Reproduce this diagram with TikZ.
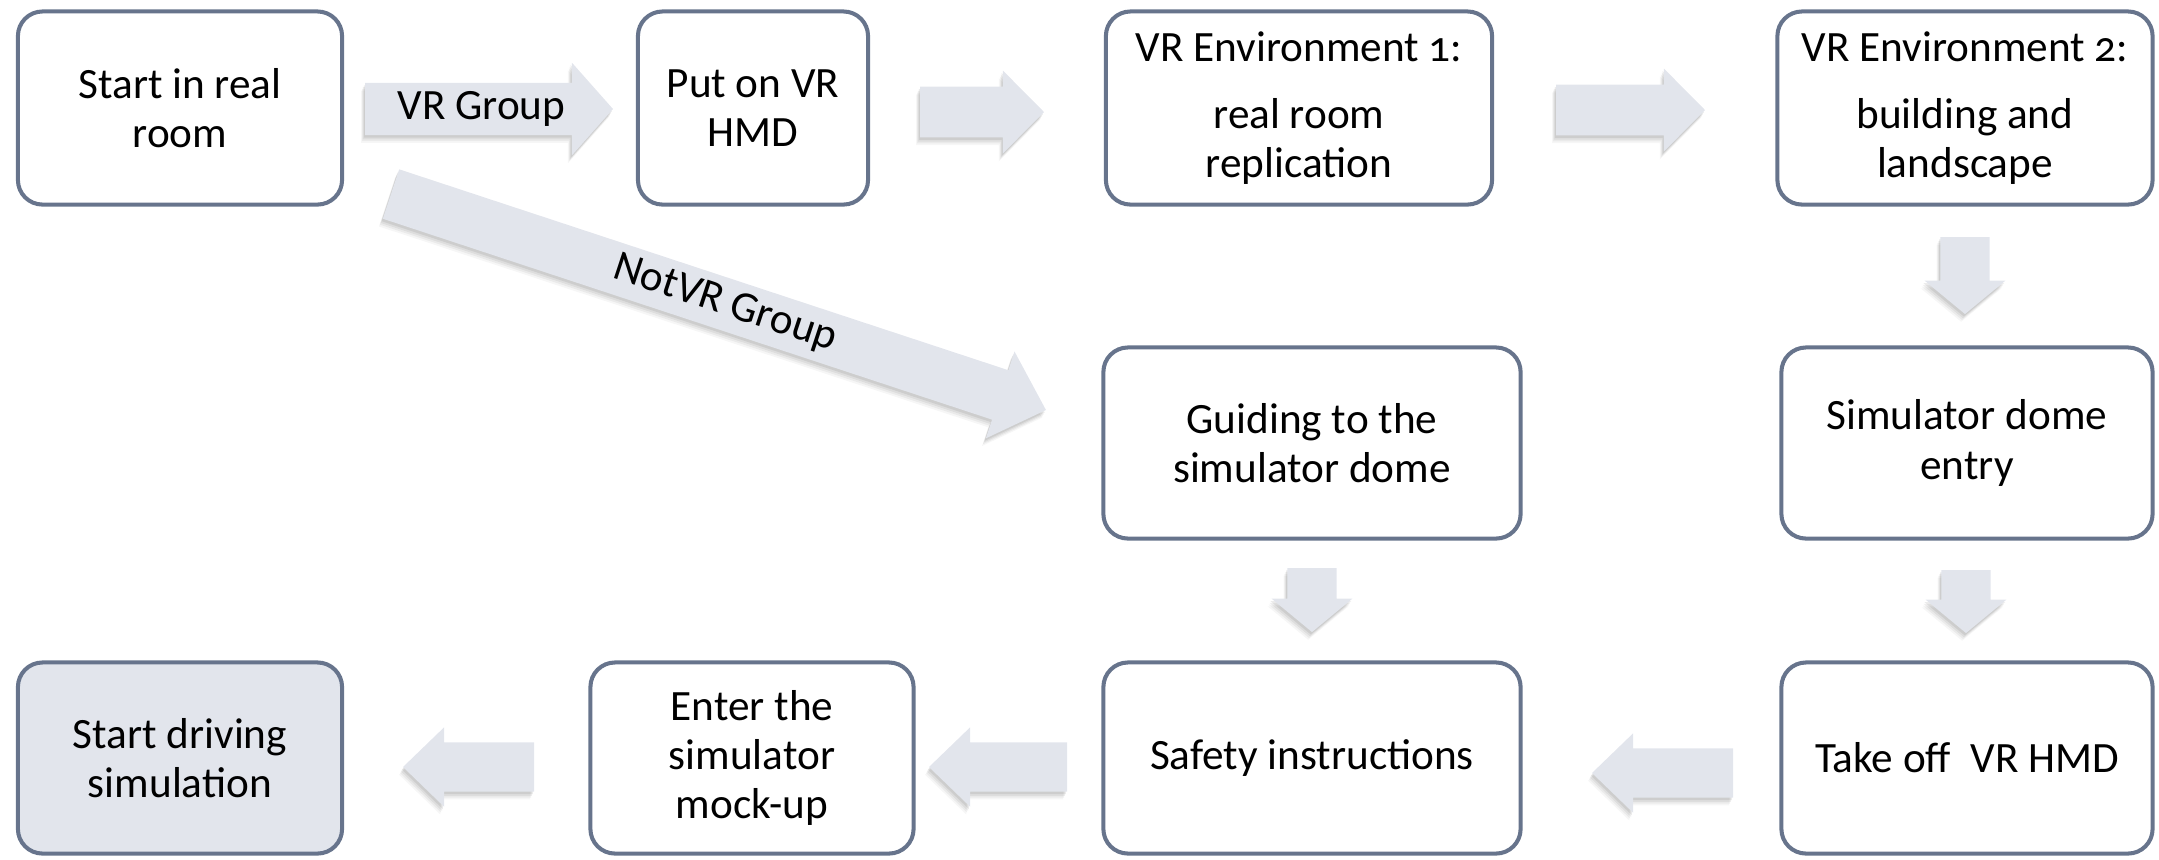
\documentclass[tikz,border=0pt]{standalone}
\usepackage{fontspec}
\setmainfont{Carlito}[Numbers=OldStyle]
\usetikzlibrary{calc}
\definecolor{boxline}{HTML}{67748C}
\definecolor{arrowfill}{HTML}{E2E5EC}
\definecolor{shadowc}{HTML}{505050}
\tikzset{
  stepbox/.style={draw=boxline, line width=1.15pt, rounded corners=7pt, align=center,
    font=\fontsize{12.3}{14}\selectfont, inner sep=0pt, fill=white},
  arrowtext/.style={font=\fontsize{12.3}{14}\selectfont, inner sep=0pt},
}
% block arrow between two named coordinates
% #1 from, #2 to, #3 shaft half width (pt), #4 head half width (pt), #5 head length (pt)
\newcommand\blockarrow[5]{%
  \path let \p1=(#1), \p2=(#2), \n1={atan2(\y2-\y1,\x2-\x1)}, \n2={veclen(\x2-\x1,\y2-\y1)} in
    \pgfextra{\xdef\baAng{\n1}\xdef\baLen{\n2}\xdef\baX{\x1}\xdef\baY{\y1}};
  \pgfmathsetmacro\baL{\baLen}%
  \pgfmathsetmacro\baH{\baLen-#5}%
  \foreach \k/\op in {2.2/0.05,1.7/0.07,1.2/0.09,0.7/0.11}{%
    \begin{scope}[shift={(\baX,\baY)}, xshift=-0.5*\k pt, yshift=-\k pt, rotate=\baAng]
      \fill[shadowc, opacity=\op] (0pt,#3pt) -- (\baH pt,#3pt) -- (\baH pt,#4pt) -- (\baL pt,0pt)
        -- (\baH pt,-#4pt) -- (\baH pt,-#3pt) -- (0pt,-#3pt) -- cycle;
    \end{scope}}
  \begin{scope}[shift={(\baX,\baY)}, rotate=\baAng]
    \fill[arrowfill] (0pt,#3pt) -- (\baH pt,#3pt) -- (\baH pt,#4pt) -- (\baL pt,0pt)
      -- (\baH pt,-#4pt) -- (\baH pt,-#3pt) -- (0pt,-#3pt) -- cycle;
  \end{scope}}
\begin{document}
\begin{tikzpicture}[x=0.01cm, y=-0.01cm]
\useasboundingbox (0,0) rectangle (2159,859);
% boxes
\node[stepbox, minimum width=3.24cm, minimum height=1.93cm] (start) at (180,108) {Start in real\\room};
\node[stepbox, minimum width=2.30cm, minimum height=1.93cm] (puton) at (753,108) {Put on VR\\HMD};
\node[stepbox, minimum width=3.86cm, minimum height=1.93cm] (env1) at (1299,108) {VR Environment 1:\\[5pt]real room\\replication};
\node[stepbox, minimum width=3.75cm, minimum height=1.93cm] (env2) at (1965,108) {VR Environment 2:\\[5pt]building and\\landscape};
\node[stepbox, minimum width=4.17cm, minimum height=1.91cm] (guide) at (1312,443) {Guiding to the\\simulator dome};
\node[stepbox, minimum width=3.71cm, minimum height=1.91cm] (domeentry) at (1967,443) {Simulator dome\\entry};
\node[stepbox, minimum width=3.24cm, minimum height=1.91cm, fill=arrowfill] (drive) at (180,758) {Start driving\\simulation};
\node[stepbox, minimum width=3.23cm, minimum height=1.91cm] (mockup) at (752,758) {Enter the\\simulator\\mock-up};
\node[stepbox, minimum width=4.17cm, minimum height=1.91cm] (safety) at (1312,758) {Safety instructions};
\node[stepbox, minimum width=3.71cm, minimum height=1.91cm] (takeoff) at (1967,758) {Take off\ \ VR HMD};
% arrow end points
\coordinate (a1s) at (365,109);  \coordinate (a1e) at (613,109);
\coordinate (a2s) at (920,112);  \coordinate (a2e) at (1044,112);
\coordinate (a3s) at (1556,110); \coordinate (a3e) at (1705,110);
\coordinate (a4s) at (1965,237); \coordinate (a4e) at (1965,314);
\coordinate (a5s) at (1312,568); \coordinate (a5e) at (1312,632);
\coordinate (a6s) at (1966,570); \coordinate (a6e) at (1966,633);
\coordinate (a7s) at (1733,773); \coordinate (a7e) at (1592,773);
\coordinate (a8s) at (1067,767); \coordinate (a8e) at (929,767);
\coordinate (a9s) at (534,767);  \coordinate (a9e) at (403,767);
\coordinate (a10s) at (391,194); \coordinate (a10e) at (1046,410);
% arrows
\blockarrow{a1s}{a1e}{7.4}{13.2}{11.7}
\blockarrow{a2s}{a2e}{7.2}{11.8}{11.7}
\blockarrow{a3s}{a3e}{7.2}{11.8}{11.7}
\blockarrow{a4s}{a4e}{7.0}{11.5}{9.5}
\blockarrow{a5s}{a5e}{7.0}{11.5}{9.5}
\blockarrow{a6s}{a6e}{7.0}{11.5}{9.5}
\blockarrow{a7s}{a7e}{7.0}{11.3}{11.7}
\blockarrow{a8s}{a8e}{7.0}{11.3}{11.7}
\blockarrow{a9s}{a9e}{7.0}{11.3}{11.7}
\blockarrow{a10s}{a10e}{7.4}{13.0}{13.7}
% arrow labels
\path (a1s) -- (a1e) node[arrowtext, pos=0.47] {VR Group};
\path (a10s) -- (a10e) node[arrowtext, pos=0.51, sloped] {NotVR Group};
\end{tikzpicture}
\end{document}
